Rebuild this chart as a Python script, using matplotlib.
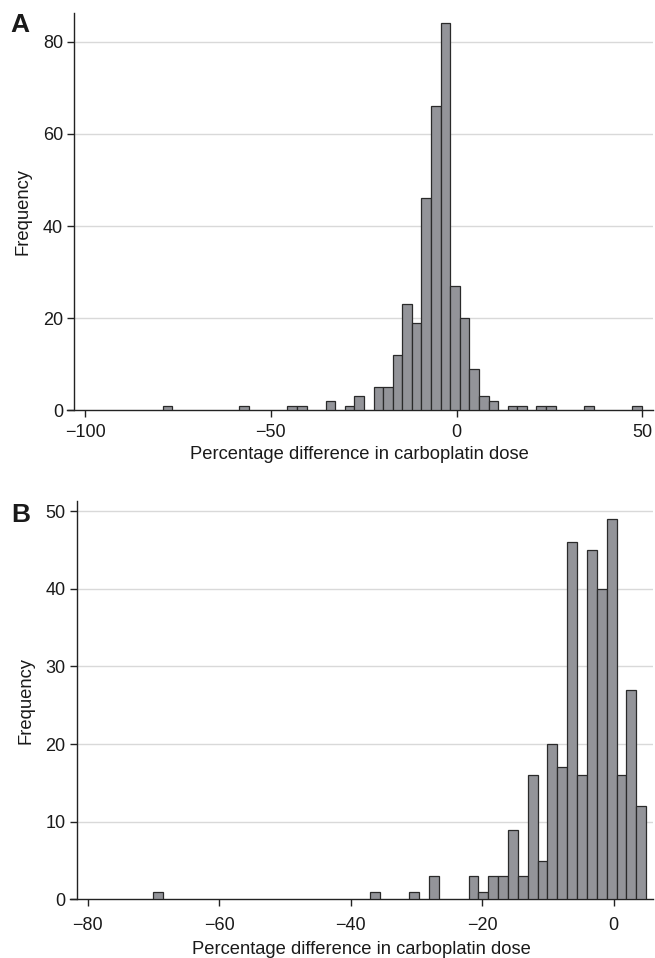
import matplotlib
matplotlib.use("Agg")
import matplotlib.pyplot as plt
import numpy as np

plt.rcParams['font.family'] = ['Liberation Sans', 'DejaVu Sans']

# ---------------- Data ----------------
# Panel A: 50 bins, width ~2.58, starting at ~-79.1
a_bin_start = -79.11
a_bin_width = 2.58
a_counts = [1, 0, 0, 0, 0, 0, 0, 0, 1, 0,
            0, 0, 0, 1, 1, 0, 0, 2, 0, 1,
            3, 0, 5, 5, 12, 23, 19, 46, 66, 84,
            27, 20, 9, 3, 2, 0, 1, 1, 0, 1,
            1, 0, 0, 0, 1, 0, 0, 0, 0, 1]
a_xticks = [-100, -50, 0, 50]
a_yticks = [0, 20, 40, 60, 80]

# Panel B: 50 bins, width 1.5, starting at ~-70.07
b_bin_start = -70.07
b_bin_width = 1.5
b_counts = [1, 0, 0, 0, 0, 0, 0, 0, 0, 0,
            0, 0, 0, 0, 0, 0, 0, 0, 0, 0,
            0, 0, 1, 0, 0, 0, 1, 0, 3, 0,
            0, 0, 3, 1, 3, 3, 9, 3, 16, 5,
            20, 17, 46, 16, 45, 40, 49, 16, 27, 12]
b_xticks = [-80, -60, -40, -20, 0]
b_yticks = [0, 10, 20, 30, 40, 50]

xlabel = "Percentage difference in carboplatin dose"
ylabel = "Frequency"

BAR_FACE = '#939499'
BAR_EDGE = '#2a2a2a'
GRID = '#d9d9d9'
TXT = '#1a1a1a'

W, H = 655, 958
fig = plt.figure(figsize=(W / 100, H / 100), dpi=100)


def make_panel(rect, start, width, counts, xlim, ylim, spine_x, xticks, yticks,
               xpad, xlabpad):
    ax = fig.add_axes(rect)
    counts = np.asarray(counts, dtype=float)
    lefts = start + width * np.arange(len(counts))
    m = counts > 0
    ax.bar(lefts[m], counts[m], width=width, align='edge',
           facecolor=BAR_FACE, edgecolor=BAR_EDGE, linewidth=0.9, zorder=3)
    ax.set_xlim(*xlim)
    ax.set_ylim(*ylim)
    ax.hlines([t for t in yticks if t > 0], spine_x, xlim[1], colors=GRID,
              linewidth=1.0, zorder=1)
    for s in ('top', 'right'):
        ax.spines[s].set_visible(False)
    ax.spines['left'].set_position(('data', spine_x))
    for s in ('left', 'bottom'):
        ax.spines[s].set_linewidth(1.0)
        ax.spines[s].set_color('#222222')
    ax.set_xticks(xticks)
    ax.set_yticks(yticks)
    ax.tick_params(axis='both', direction='out', length=5, width=1.0,
                   color='#222222', labelsize=13, labelcolor=TXT)
    ax.tick_params(axis='x', pad=xpad)
    ax.tick_params(axis='y', pad=3)
    ax.set_xlabel(xlabel, fontsize=13.2, color=TXT, labelpad=xlabpad)
    ax.set_ylabel(ylabel, fontsize=13.2, color=TXT, labelpad=8)
    ax.set_facecolor('none')
    return ax


axA = make_panel([66.7 / W, 1 - 410.3 / H, (653 - 66.7) / W, (410.3 - 12.7) / H],
                 a_bin_start, a_bin_width, a_counts, (-105, 52.9), (0, 86.3),
                 -103, a_xticks, a_yticks, 5.0, 3.5)
axB = make_panel([70 / W, 1 - 899.4 / H, (653 - 70) / W, (899.4 - 501) / H],
                 b_bin_start, b_bin_width, b_counts, (-82.7, 5.98), (0, 51.3),
                 -81.7, b_xticks, b_yticks, 7.5, 5.0)

fig.text(10 / W, 1 - 32 / H, 'A', fontsize=19, fontweight='bold', color=TXT,
         va='baseline', ha='left')
fig.text(11 / W, 1 - 522 / H, 'B', fontsize=19, fontweight='bold', color=TXT,
         va='baseline', ha='left')

fig.savefig('out.png', dpi=100, facecolor='white')
